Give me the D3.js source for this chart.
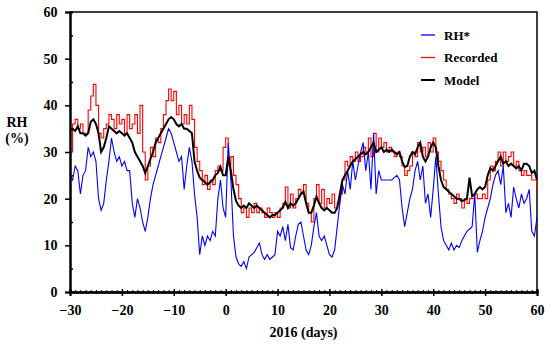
<!DOCTYPE html>
<html><head><meta charset="utf-8">
<script src="https://cdn.jsdelivr.net/npm/d3@7"></script>
<style>body{margin:0;background:#fff}svg{display:block}</style>
</head><body><svg id="c" width="550" height="345"></svg>
<script>
// x values: day = dayStart + i*dayStep
const dayStart = -30, dayStep = 0.5;

const rhStar = [
 25,24,27,26,21,25,26,31,29,30,
 28,20,17.5,19,24,28,33,30,28,29,
 27,28,26,26,19,16,20,18,15,13,
 16,20,23,25,27,29,31,33,35,34,
 32,30,28,29,22,27,31,28,21,16,
 8,12,10,12,11,13,12,20,24,18,
 16,32,24,12,7.5,6,5.5,6.5,5,7.5,
 8,8.5,9.5,10.5,8,7,8,7,7.5,8,
 13,12,14,11,14.5,9.5,9,12,14.5,15,
 12,9,8,10,14,17,12,11,12,10,
 8,7.5,9,14,19,23,21,26,22,28,
 24,27,30,32,26,30,22,34,21,26,
 24,24,24,24,24,24.5,25,24,18,14,
 17,20,22,26,28,24,27,19,21,16,
 22,29,21,14,11,10,9,10.5,9,10,
 9.5,11,12,13,13.5,14,21,8.5,11,13,
 16,18,20,23,25,26,23,27,17,19,
 16,22.5,20,18,21,19,20,22,13,12,
 16
];
const recorded = [
 30,36,37,35,36,34,34,39,42,44.5,
 40,34,33,35,36,38,37,35,38,36,
 37,34,38,35,36,38,34,40,30,24,
 27,31,29,33,32,35,38,41,43.5,41,
 43,38,40,36,38,36,40,37,31,28,
 26,23,25,22,24,23,26,27,26,31,
 33,27,29,25,23,20,17,18,16,18,
 17,19,17,18,17,16,18,17,16,17,
 16,18,19,22.5,18,21,18,20,22,21,
 23,19,17,15,20,23,19,22,18,20,
 19,21,18,19,21,24,28,27,29,28,
 30,28,29,31,30,33,29,34,30,33,
 31,32,30,31,30,29,30,29,27,25,
 26,27,30,29,32,30,31,29,32,30,
 33,30,28,26,24,22,21,20,19,21,
 20,18,20,19,20,20,21,20,20,21,
 20,24,27,26,28,30,27,30,28,29,
 30,27,28,26,25,26,25,25,24,24,
 22
];
const model = [
 35,35,34.5,35.5,34,34,33.5,34,36.5,37,
 36,34,30,31,33,35.5,35,34.5,34,34.5,
 34,33.5,34,33,32,30,29,28,27,25.5,
 27,28.5,30,32,33,34,35,36,37,37.5,
 37,36,35.5,36,35,35,34.5,34,28,26,
 24.5,24,23.5,23,23.5,24,25,25.5,26.8,25,
 25,29,26,22,19.5,18.5,18,18.5,18,19,
 18.5,18,18.5,18,17.5,17,16.5,16,16.5,16.5,
 17,17.5,18,19.3,18,19,18.5,19,20,21,
 21.5,19,17,17,18.5,20.4,19,18,17.5,18,
 17.5,17,17,18,21,24,25,26,27,28,
 28.5,29,29.5,30,29.5,30,31,32,30,30.5,
 31,30,30.5,30,30.5,30,29.5,30,28,26.8,
 27,29,30,29.5,31,32,29,28,29,31,
 32,31,27,24,22.5,22,21.5,21,20.5,20,
 20,19.5,19.7,20,24.5,20.5,21,22,22.5,22,
 22.5,25,26.5,26,27,28,29,27.5,28,27,
 27.5,27,26.5,27,26,27.5,27.5,27,25.5,26,
 24
];
const xTicks = [-30,-20,-10,0,10,20,30,40,50,60];
const yTicks = [0,10,20,30,40,50,60];
const yMinorTicks = [5,15,25,35,45,55];
const xMinorTicks = d3.range(-30, 61, 1).filter(d => d % 10 !== 0);
const seriesNames = ["RH*","Recorded","Model"];
const seriesColors = ["#0000ff","#ff0000","#000000"];

const svg = d3.select("#c");
const font = "'Liberation Serif','Times New Roman',serif";
const x = d3.scaleLinear().domain([-30,60]).range([70,537]);
const y = d3.scaleLinear().domain([0,60]).range([292,12]);

const pts = arr => arr.map((v,i)=>[dayStart+i*dayStep, v]);

// frame top/right
svg.append("path").attr("d",`M${x(-30)},${y(60)}H${x(60)}V${y(0)}`)
  .attr("fill","none").attr("stroke","#000").attr("stroke-width",1.5);

const line = d3.line().x(d=>x(d[0])).y(d=>y(d[1]));
const stepLine = d3.line().x(d=>x(d[0])).y(d=>y(d[1])).curve(d3.curveStepAfter);

svg.append("path").attr("d", stepLine(pts(recorded))).attr("fill","none")
  .attr("stroke",seriesColors[1]).attr("stroke-width",1.1);
svg.append("path").attr("d", line(pts(rhStar))).attr("fill","none")
  .attr("stroke",seriesColors[0]).attr("stroke-width",1.1);
svg.append("path").attr("d", line(pts(model))).attr("fill","none")
  .attr("stroke",seriesColors[2]).attr("stroke-width",2);

// y axis
const gy = svg.append("g").attr("transform",`translate(${x(-30)},0)`)
  .call(d3.axisLeft(y).tickValues(yTicks).tickSize(5).tickPadding(7.5).tickFormat(d3.format("d")));
const gy2 = svg.append("g").attr("transform",`translate(${x(-30)},0)`)
  .call(d3.axisLeft(y).tickValues(yMinorTicks).tickSize(-3).tickFormat(""));
// x axis
const gx = svg.append("g").attr("transform",`translate(0,${y(0)})`)
  .call(d3.axisBottom(x).tickValues(xTicks).tickSize(4).tickPadding(9).tickFormat(d3.format("d")));
const gx2 = svg.append("g").attr("transform",`translate(0,${y(0)})`)
  .call(d3.axisBottom(x).tickValues(xTicks).tickSize(-3).tickFormat(""));
const gx3 = svg.append("g").attr("transform",`translate(0,${y(0)})`)
  .call(d3.axisBottom(x).tickValues(xMinorTicks).tickSize(-2).tickFormat(""));

[gy,gy2,gx,gx2,gx3].forEach(g=>{
  g.select(".domain").attr("stroke","#000").attr("stroke-width",2);
  g.selectAll(".tick line").attr("stroke","#000").attr("stroke-width",1.5);
  g.selectAll("text").attr("font-family",font).attr("font-weight","bold")
   .attr("font-size",14).attr("fill","#000");
});
gx3.selectAll(".tick line").attr("stroke-width",1);
gy.selectAll("text").attr("dy","0.33em");

// axis titles
svg.append("text").attr("x",303.5).attr("y",337).attr("text-anchor","middle")
  .attr("font-family",font).attr("font-weight","bold").attr("font-size",14).text("2016 (days)");
svg.append("text").attr("x",17).attr("y",127).attr("text-anchor","middle")
  .attr("font-family",font).attr("font-weight","bold").attr("font-size",14).text("RH");
svg.append("text").attr("x",17).attr("y",143).attr("text-anchor","middle")
  .attr("font-family",font).attr("font-weight","bold").attr("font-size",14).text("(%)");

// legend
const leg = svg.append("g");
seriesNames.forEach((n,i)=>{
  const yy = 35 + i*22.5;
  leg.append("line").attr("x1",421).attr("x2",435).attr("y1",yy).attr("y2",yy)
    .attr("stroke",seriesColors[i]).attr("stroke-width",i===2?2:1.3);
  leg.append("text").attr("x",444).attr("y",yy+4.5).attr("font-family",font)
    .attr("font-weight","bold").attr("font-size",13).text(n);
});
</script>
</body></html>
